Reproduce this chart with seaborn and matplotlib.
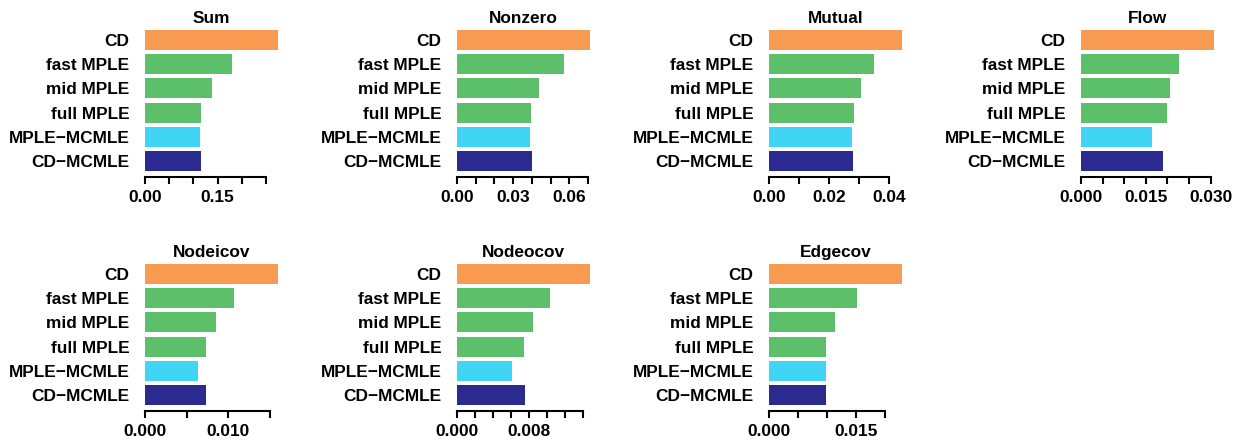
import numpy as np
import pandas as pd
import seaborn as sns
import matplotlib.pyplot as plt

sns.set_style("white")
plt.rcParams["font.family"] = ["Liberation Sans", "DejaVu Sans"]
plt.rcParams["font.weight"] = "bold"
plt.rcParams["text.color"] = "black"
plt.rcParams["xtick.color"] = "black"
plt.rcParams["ytick.color"] = "black"
plt.rcParams["axes.labelcolor"] = "black"

methods = ["CD", "fast MPLE", "mid MPLE", "full MPLE", "MPLE\u2212MCMLE", "CD\u2212MCMLE"]
method_colors = ["#F89A50", "#5CC06B", "#5CC06B", "#5CC06B", "#41D5F5", "#2B2A91"]

panels = ["Sum", "Nonzero", "Mutual", "Flow", "Nodeicov", "Nodeocov", "Edgecov"]
sum_vals = [0.275, 0.180, 0.139, 0.116, 0.114, 0.116]
nonzero_vals = [0.0711, 0.0571, 0.0438, 0.0396, 0.0389, 0.0400]
mutual_vals = [0.0443, 0.0350, 0.0306, 0.0283, 0.0276, 0.0280]
flow_vals = [0.0308, 0.0226, 0.0205, 0.0198, 0.0164, 0.0189]
nodeicov_vals = [0.0160, 0.0107, 0.00853, 0.00732, 0.00635, 0.00732]
nodeocov_vals = [0.01478, 0.01032, 0.00843, 0.00743, 0.00609, 0.00754]
edgecov_vals = [0.0230, 0.0152, 0.01139, 0.00983, 0.00983, 0.00983]

# axis ticks per panel: (step, last tick), and which ticks get a label
tick_steps = [0.05, 0.01, 0.01, 0.005, 0.005, 0.002, 0.005]
tick_last = [0.25, 0.07, 0.04, 0.030, 0.015, 0.014, 0.020]
tick_labels = [
    {0.0: "0.00", 0.15: "0.15"},
    {0.0: "0.00", 0.03: "0.03", 0.06: "0.06"},
    {0.0: "0.00", 0.02: "0.02", 0.04: "0.04"},
    {0.0: "0.000", 0.015: "0.015", 0.03: "0.030"},
    {0.0: "0.000", 0.01: "0.010"},
    {0.0: "0.000", 0.008: "0.008"},
    {0.0: "0.000", 0.015: "0.015"},
]

all_vals = [sum_vals, nonzero_vals, mutual_vals, flow_vals,
            nodeicov_vals, nodeocov_vals, edgecov_vals]

rows = []
for name, vals in zip(panels, all_vals):
    for m, v in zip(methods, vals):
        rows.append({"panel": name, "method": m, "value": v})
df = pd.DataFrame(rows)
palette = dict(zip(methods, method_colors))

fig, axes = plt.subplots(2, 4, figsize=(12.44, 4.41), dpi=100)
plt.subplots_adjust(left=0.1123, right=0.9802, top=0.9451, bottom=0.0685,
                    wspace=1.1727, hspace=0.5334)

fs = 12.4
for i, name in enumerate(panels):
    ax = axes.flat[i]
    sub = df[df["panel"] == name]
    sns.barplot(data=sub, x="value", y="method", hue="method", order=methods,
                palette=palette, dodge=False, legend=False, width=0.833,
                saturation=1, linewidth=0, ax=ax)
    vmax = sub["value"].max()
    ax.set_xlim(-0.04 * vmax, 1.04 * vmax)
    ax.set_ylim(5.6567, -0.6567)
    ticks = np.round(np.arange(0, tick_last[i] + tick_steps[i] / 2, tick_steps[i]), 6)
    ax.set_xticks(ticks)
    labs = tick_labels[i]
    ax.set_xticklabels([next((s for k, s in labs.items() if abs(k - t) < 1e-9), "") for t in ticks])
    for s in ["top", "right", "left"]:
        ax.spines[s].set_visible(False)
    ax.spines["bottom"].set_bounds(0, ticks[-1])
    ax.spines["bottom"].set_linewidth(1.5)
    ax.spines["bottom"].set_color("black")
    ax.tick_params(axis="x", bottom=True, direction="out", length=5, width=1.5,
                   pad=4.5, labelsize=fs, color="black", labelcolor="black")
    ax.tick_params(axis="y", left=False, length=0, pad=7.5, labelsize=fs,
                   labelcolor="black")
    for lab in ax.get_xticklabels() + ax.get_yticklabels():
        lab.set_fontweight("bold")
    ax.set_xlabel("")
    ax.set_ylabel("")
    ax.set_title(name, fontsize=fs, fontweight="bold", pad=1, color="black")

axes.flat[7].axis("off")

plt.savefig("out.png", dpi=100)
